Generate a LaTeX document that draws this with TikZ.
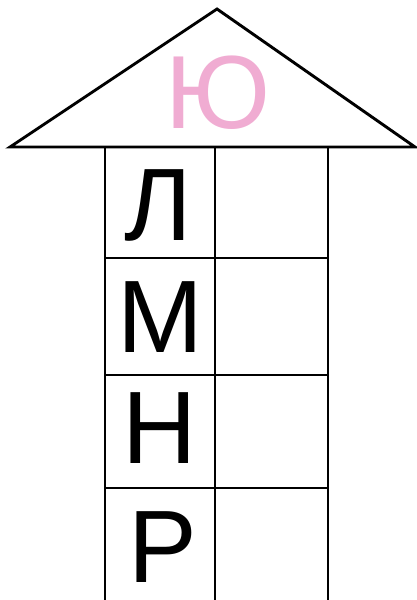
\documentclass[tikz,border=0pt]{standalone}
\usepackage{fontspec}
\setmainfont{Liberation Sans}
\definecolor{tracepink}{RGB}{240,172,210}
\begin{document}
\begin{tikzpicture}[x=1pt,y=-1pt,
  roof/.style={draw=black,line width=2.9pt,line join=miter},
  gridline/.style={draw=black,line width=2.1pt},
  bigletter/.style={anchor=base,inner sep=0pt,text depth=0pt,font=\fontsize{103}{103}\selectfont},
  traceletter/.style={anchor=base,inner sep=0pt,text depth=0pt,text=tracepink,font=\fontsize{104}{104}\selectfont}]
\useasboundingbox (0,0) rectangle (416,600);
% roof
\draw[roof] (10,147) -- (217,9) -- (415,147) -- cycle;
\node[traceletter] (yu) at (218,128) {Ю};
% grid
\draw[gridline] (105,147) -- (105,600);
\draw[gridline] (215,147) -- (215,600);
\draw[gridline] (328,147) -- (328,600);
\draw[gridline] (105,258) -- (328,258);
\draw[gridline] (105,375) -- (328,375);
\draw[gridline] (105,488) -- (328,488);
% letters
\node[bigletter] (l) at (158,240) {Л};
\node[bigletter] (m) at (160,352) {М};
\node[bigletter] (n) at (160,463) {Н};
\node[bigletter] (r) at (163,582) {Р};
\end{tikzpicture}
\end{document}
